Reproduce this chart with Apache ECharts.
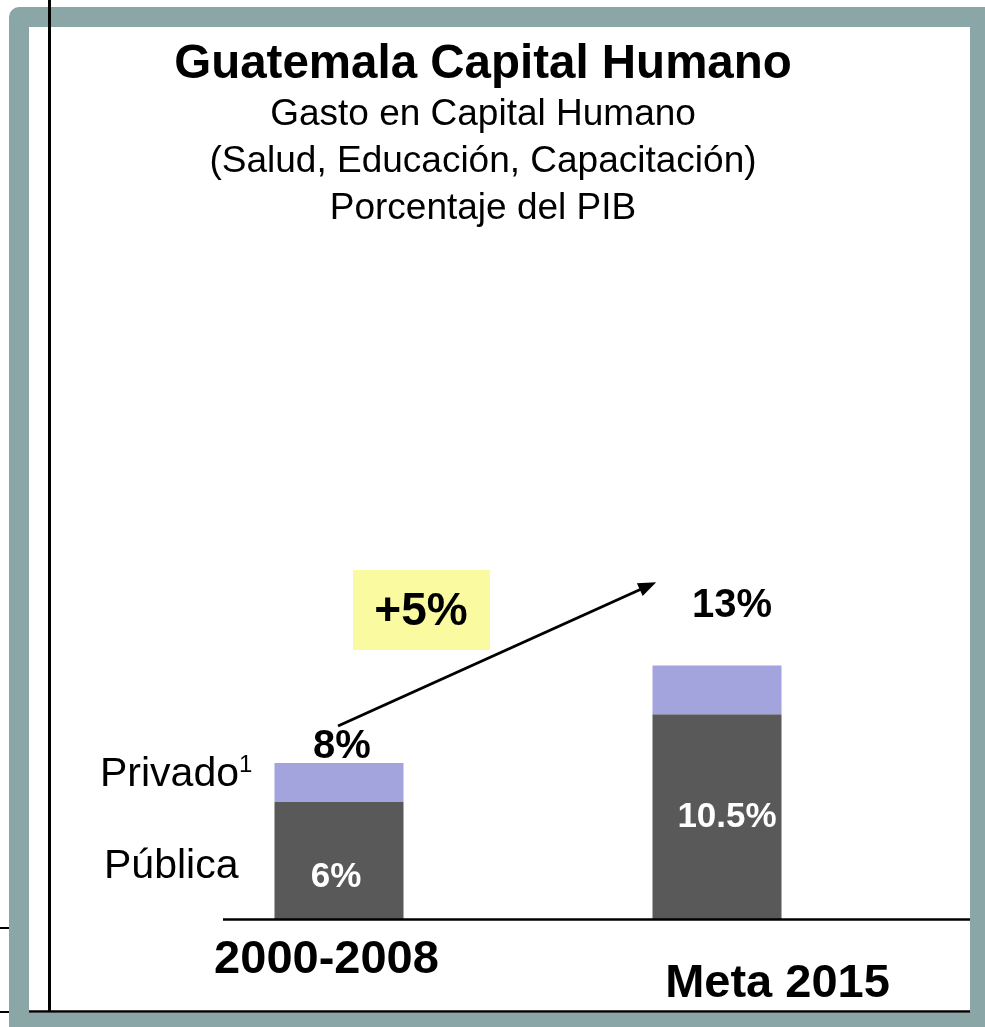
<!DOCTYPE html>
<html>
<head>
<meta charset="utf-8">
<title>Guatemala Capital Humano</title>
<script src="https://cdn.jsdelivr.net/npm/echarts@6/dist/echarts.min.js"></script>
<style>
  html, body { margin: 0; padding: 0; background: #fff; }
  #chart { width: 985px; height: 1027px; }
</style>
</head>
<body>
<div id="chart"></div>
<script>
  // datos (% del PIB)
  const categories = ['2000-2008', 'Meta 2015'];
  const publica = [6, 10.5];
  const privado = [2, 2.5];
  const totals = [8, 13];
  const growthLabel = '+5%';

  const FONT = '"Liberation Sans", Arial, sans-serif';
  const FRAME = '#8BA6A7';

  let myChart = echarts.init(document.getElementById('chart'));

  myChart.setOption({
    backgroundColor: '#fff',
    title: [{
      text: 'Guatemala Capital Humano',
      left: 478,
      textAlign: 'center',
      top: 36,
      textStyle: { fontFamily: FONT, fontSize: 47.5, fontWeight: 'bold', color: '#000', lineHeight: 47 }
    }, {
      text: 'Gasto en Capital Humano\n(Salud, Educación, Capacitación)\nPorcentaje del PIB',
      left: 478,
      textAlign: 'center',
      top: 86,
      textStyle: { fontFamily: FONT, fontSize: 37, fontWeight: 'normal', color: '#000', lineHeight: 47 }
    }],
    grid: { left: 150, right: 79, top: 529, bottom: 108 },
    xAxis: {
      type: 'category',
      data: categories,
      axisLine: { show: false },
      axisTick: { show: false },
      axisLabel: {
        margin: 18,
        formatter: (v, i) => i === 0 ? '{a|' + v + '}' : '{b|' + v + '}',
        rich: {
          a: { fontFamily: FONT, fontSize: 47, fontWeight: 'bold', color: '#000', padding: [0, 25, 0, 0] },
          b: { fontFamily: FONT, fontSize: 47, fontWeight: 'bold', color: '#000', padding: [24, 0, 0, 121] }
        }
      }
    },
    yAxis: {
      type: 'value',
      min: 0,
      max: 20,
      show: false
    },
    series: [{
      name: 'Pública',
      type: 'bar',
      stack: 'gasto',
      barWidth: 129,
      itemStyle: { color: '#595959' },
      label: {
        show: true,
        color: '#fff',
        fontFamily: FONT,
        fontSize: 35,
        fontWeight: 'bold',
        formatter: p => p.value + '%'
      },
      data: [
        { value: publica[0], label: { position: 'insideBottom', distance: 24, offset: [-3, 0] } },
        { value: publica[1], label: { position: 'inside', offset: [10, 1] } }
      ],
      markLine: {
        silent: true,
        symbol: ['none', 'triangle'],
        symbolSize: [14, 18],
        lineStyle: { color: '#000', width: 3, type: 'solid' },
        label: { show: false },
        data: [[{ x: 338, y: 726 }, { x: 648, y: 586 }]]
      }
    }, {
      name: 'Privado',
      type: 'bar',
      stack: 'gasto',
      barWidth: 129,
      itemStyle: { color: '#A3A3DD' },
      label: {
        show: true,
        position: 'top',
        color: '#000',
        fontFamily: FONT,
        fontSize: 40,
        fontWeight: 'bold',
        formatter: p => totals[p.dataIndex] + '%'
      },
      data: [
        { value: privado[0], label: { distance: 0, offset: [3, 4] } },
        { value: privado[1], label: { distance: 40, offset: [15, 0] } }
      ]
    }],
    graphic: [
      // marco de la diapositiva
      { type: 'rect', z: -10, shape: { x: 9, y: 7, width: 976, height: 1020, r: [10, 0, 0, 0] }, style: { fill: FRAME } },
      { type: 'rect', z: -9, shape: { x: 29, y: 27, width: 941, height: 986 }, style: { fill: '#fff' } },
      { type: 'line', z: 5, shape: { x1: 49.5, y1: 0, x2: 49.5, y2: 1012 }, style: { stroke: '#000', lineWidth: 3 } },
      { type: 'line', z: 5, shape: { x1: 29, y1: 1011.5, x2: 970, y2: 1011.5 }, style: { stroke: '#000', lineWidth: 2.5 } },
      { type: 'line', z: 5, shape: { x1: 0, y1: 928, x2: 9, y2: 928 }, style: { stroke: '#000', lineWidth: 2 } },
      { type: 'line', z: 5, shape: { x1: 0, y1: 1012, x2: 9, y2: 1012 }, style: { stroke: '#000', lineWidth: 2 } },
      // linea base
      { type: 'line', z: 5, shape: { x1: 223, y1: 919.5, x2: 970, y2: 919.5 }, style: { stroke: '#000', lineWidth: 2.5 } },
      // etiquetas de las series
      {
        type: 'text', z: 5,
        style: {
          x: 100, y: 775, verticalAlign: 'middle',
          text: '{p|Privado}{s|1}',
          rich: {
            p: { fontFamily: FONT, fontSize: 41, fill: '#000' },
            s: { fontFamily: FONT, fontSize: 24, fill: '#000', padding: [0, 0, 20, 0] }
          }
        }
      },
      {
        type: 'text', z: 5,
        style: { x: 104, y: 867, verticalAlign: 'middle', text: 'Pública', font: '41px ' + FONT, fill: '#000' }
      },
      // recuadro +5%
      { type: 'rect', z: 4, shape: { x: 353, y: 570, width: 137, height: 80 }, style: { fill: '#FAFAA0' } },
      {
        type: 'text', z: 5,
        style: { x: 421, y: 612, align: 'center', verticalAlign: 'middle', text: growthLabel, font: 'bold 46px ' + FONT, fill: '#000' }
      }
    ]
  });
</script>
</body>
</html>
